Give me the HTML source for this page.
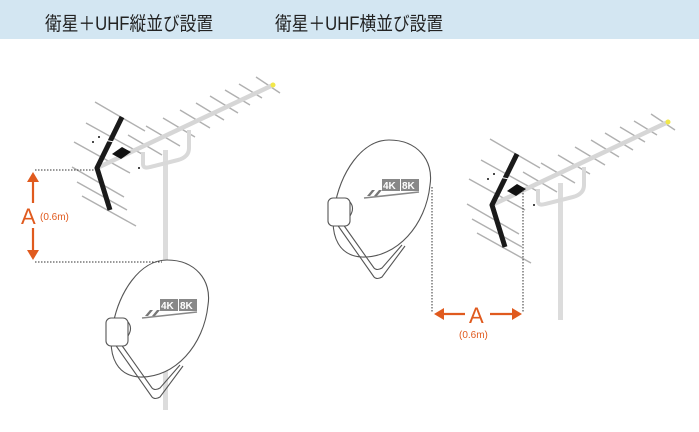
<!DOCTYPE html>
<html><head><meta charset="utf-8"><style>
html,body{margin:0;padding:0;background:#fff;}
body{width:699px;height:432px;overflow:hidden;position:relative;font-family:"Liberation Sans","Noto Sans CJK JP",sans-serif;}
.hd{position:absolute;left:0;top:0;width:699px;height:39px;background:#d3e6f2;}
.t{position:absolute;top:9px;font-size:19px;color:#222;white-space:nowrap;transform:scaleX(0.88);transform-origin:0 0;}
svg{position:absolute;left:0;top:0;}
</style></head><body>
<div class="hd"></div>
<div class="t" style="left:45px">衛星＋UHF縦並び設置</div>
<div class="t" style="left:275px">衛星＋UHF横並び設置</div>
<svg width="699" height="432" viewBox="0 0 699 432">
<defs>
<g id="ant">
  <g stroke="#b0b0b0" stroke-width="1.4">
    <line x1="95" y1="102" x2="145" y2="131"/>
    <line x1="86" y1="123" x2="142" y2="154"/>
    <line x1="74" y1="142" x2="130" y2="173"/>
    <line x1="72" y1="167" x2="124" y2="197"/>
    <line x1="77" y1="182" x2="127" y2="210"/>
    <line x1="82" y1="196" x2="136" y2="226"/>
    <line x1="128" y1="135" x2="162" y2="155"/>
    <line x1="146" y1="126" x2="180" y2="146"/>
    <line x1="163" y1="118" x2="195" y2="137"/>
    <line x1="180" y1="110" x2="210" y2="128"/>
    <line x1="196" y1="103" x2="224" y2="120"/>
    <line x1="210" y1="96" x2="238" y2="113"/>
    <line x1="225" y1="90" x2="250" y2="105"/>
    <line x1="239" y1="84" x2="262" y2="98"/>
    <line x1="256" y1="77" x2="280" y2="93"/>
  </g>
  <path d="M143 152 L143 164 Q143 169 150 167 L178 160 Q189 157 189 148 L189 130" fill="none" stroke="#d9d9d9" stroke-width="4"/>
  <line x1="97" y1="168" x2="273" y2="85" stroke="#d6d6d6" stroke-width="4.5" stroke-linecap="round"/>
  <circle cx="273" cy="85" r="2.5" fill="#f2e84a"/>
  <path d="M122 117 L97 168 L110 210" fill="none" stroke="#1a1a1a" stroke-width="5" stroke-linejoin="round"/>
  <line x1="104" y1="140" x2="114" y2="142" stroke="#fff" stroke-width="1"/>
  <path d="M112 154 L122 147 L131 152 L121 159 Z" fill="#111"/>
  <circle cx="93" cy="142" r="1" fill="#111"/><circle cx="99" cy="137" r="1" fill="#111"/><circle cx="139" cy="168" r="1" fill="#111"/>
</g>
<g id="dish" fill="none" stroke="#555" stroke-width="1.1">
  <path d="M167 260 C195 260 212 280 208 305 C204 345 175 378 140 377 C118 376 108 358 112 330 C118 292 140 260 167 260 Z" fill="#fff"/>
  <path d="M112 340 L152 397 Q155 400 160 397 L183 366" />
  <path d="M118 340 L152 388 Q155 391 160 388 L180 365" />
  <rect x="106" y="318" width="22" height="28" rx="5" fill="#fff"/>
  <path d="M128 322 Q133 328 128 336"/>
  <path d="M145 316 L150 310 L153 310 L148 316 Z M152 316 L157 310 L160 310 L155 316 Z" fill="#777" stroke="none"/>
  <rect x="160" y="299" width="18" height="12" fill="#888" stroke="none"/>
  <rect x="179" y="299" width="18" height="12" fill="#888" stroke="none"/>
  <line x1="142" y1="318" x2="197" y2="312" stroke="#888" stroke-width="1.6"/>
</g>
</defs>
<!-- left -->
<rect x="163" y="150" width="5" height="260" fill="#dcdcdc"/>
<use href="#ant"/>
<use href="#dish"/>
<text x="161" y="309" font-size="10" font-weight="bold" fill="#fff" font-family="Liberation Sans,sans-serif">4K</text>
<text x="180" y="309" font-size="10" font-weight="bold" fill="#fff" font-family="Liberation Sans,sans-serif">8K</text>
<g stroke="#333" stroke-width="1" stroke-dasharray="1.5,1.5">
<line x1="35" y1="170" x2="95" y2="170"/><line x1="35" y1="262" x2="162" y2="262"/>
</g>
<g stroke="#e05a1e" stroke-width="2.2" fill="#e05a1e">
<line x1="33" y1="180" x2="33" y2="203"/><line x1="33" y1="228" x2="33" y2="252"/>
<path d="M27 182 L33 172 L39 182 Z" stroke="none"/><path d="M27 250 L33 260 L39 250 Z" stroke="none"/>
</g>
<text x="21" y="224" font-size="22" fill="#e05a1e" font-family="Liberation Sans,sans-serif">A</text>
<text x="40" y="220" font-size="10" fill="#e05a1e" font-family="Liberation Sans,sans-serif">(0.6m)</text>
<!-- right -->
<rect x="558" y="183" width="5" height="137" fill="#dcdcdc"/>
<use href="#ant" transform="translate(395,37)"/>
<use href="#dish" transform="translate(222,-120)"/>
<text x="383" y="189" font-size="10" font-weight="bold" fill="#fff" font-family="Liberation Sans,sans-serif">4K</text>
<text x="402" y="189" font-size="10" font-weight="bold" fill="#fff" font-family="Liberation Sans,sans-serif">8K</text>
<g stroke="#333" stroke-width="1" stroke-dasharray="1.5,1.5">
<line x1="432" y1="187" x2="432" y2="312"/><line x1="523" y1="190" x2="523" y2="312"/>
</g>
<g stroke="#e05a1e" stroke-width="2.2" fill="#e05a1e">
<line x1="442" y1="314" x2="465" y2="314"/><line x1="490" y1="314" x2="514" y2="314"/>
<path d="M444 308 L434 314 L444 320 Z" stroke="none"/><path d="M512 308 L522 314 L512 320 Z" stroke="none"/>
</g>
<text x="469" y="323" font-size="22" fill="#e05a1e" font-family="Liberation Sans,sans-serif">A</text>
<text x="459" y="338" font-size="10" fill="#e05a1e" font-family="Liberation Sans,sans-serif">(0.6m)</text>
</svg>
</body></html>
